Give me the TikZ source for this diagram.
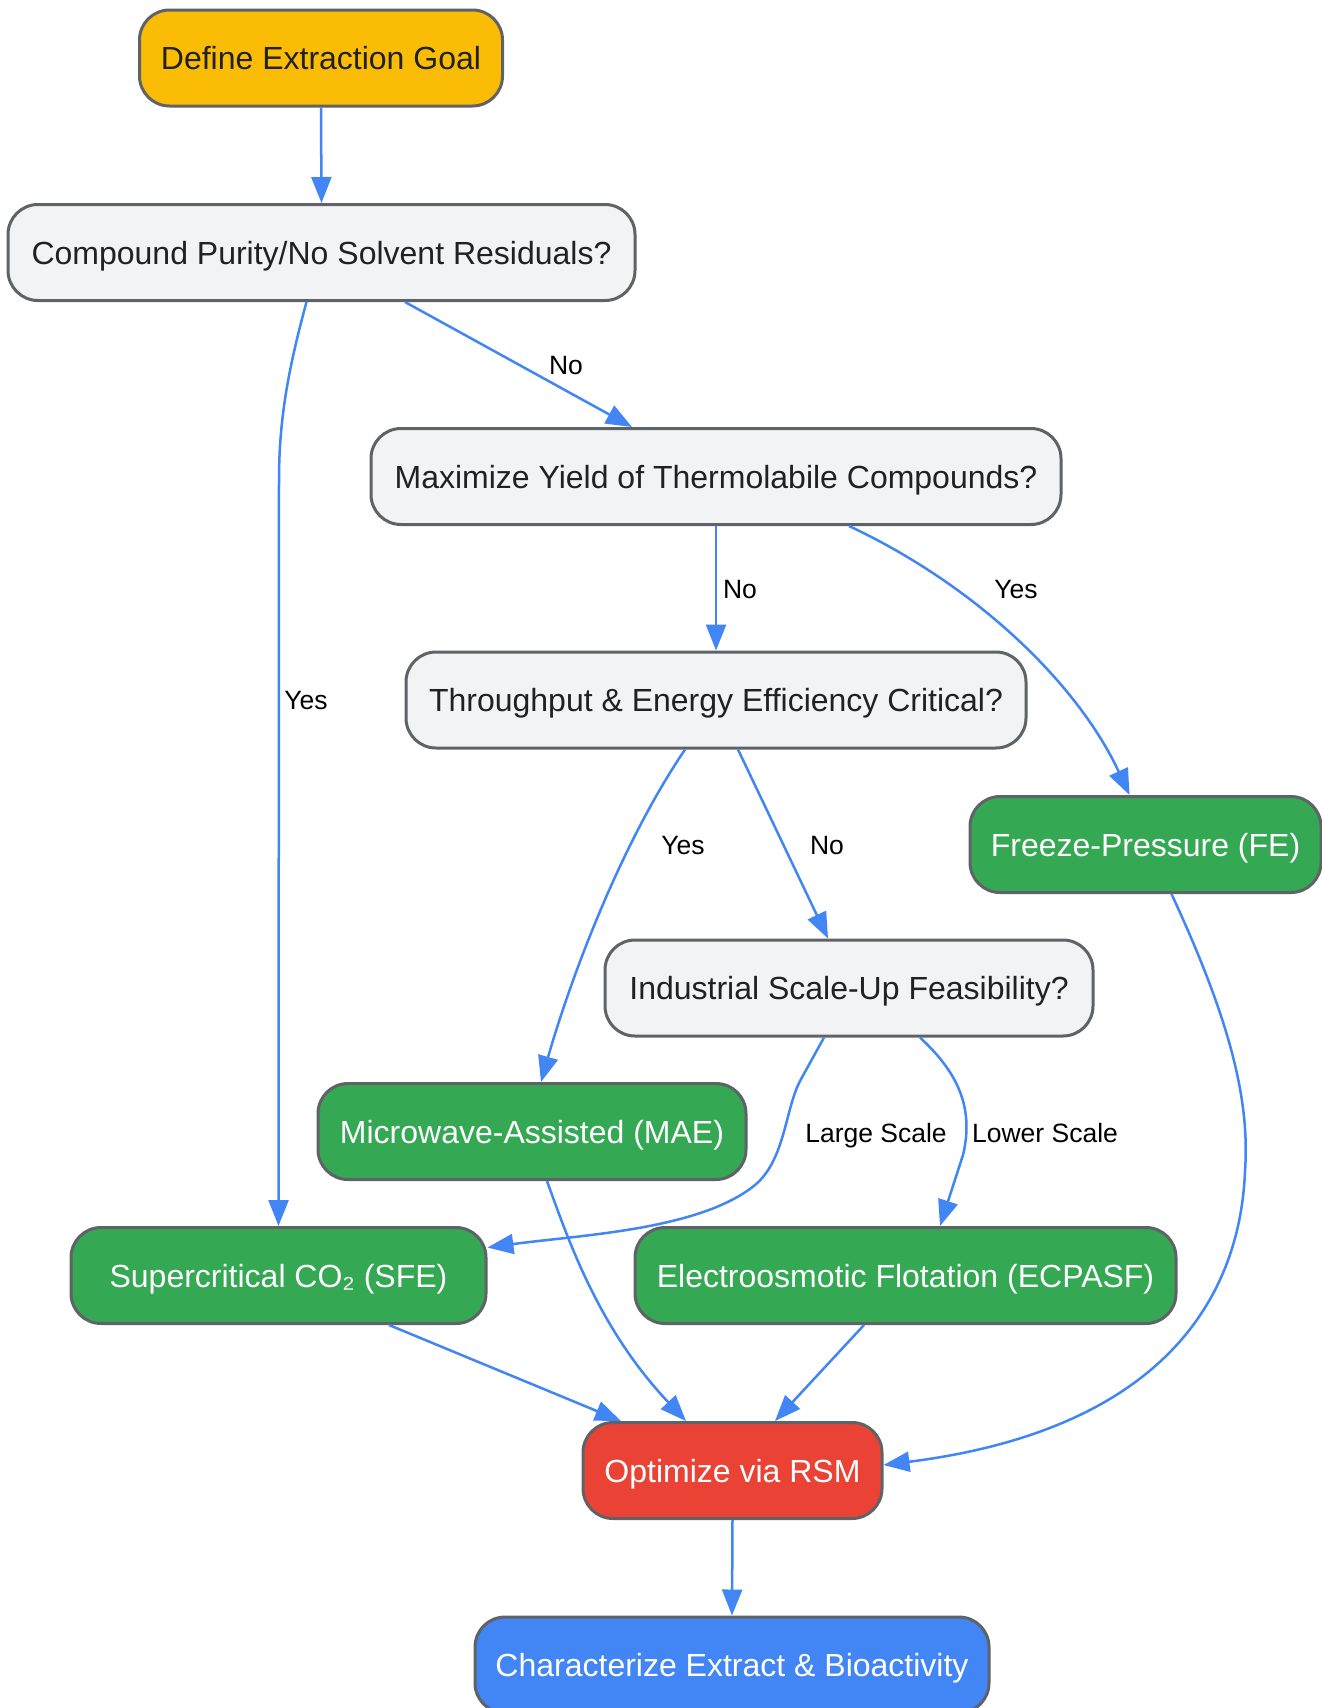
\documentclass[tikz,border=0pt]{standalone}
\usepackage{fontspec}
\setmainfont{Liberation Sans}
\usetikzlibrary{arrows.meta}
\definecolor{gyellow}{HTML}{FBBC05}
\definecolor{ggray}{HTML}{F1F3F4}
\definecolor{ggreen}{HTML}{34A853}
\definecolor{gred}{HTML}{EA4335}
\definecolor{gblue}{HTML}{4285F4}
\definecolor{bordc}{HTML}{5F6368}
\definecolor{darktext}{HTML}{202124}
\begin{document}
\begin{tikzpicture}[x=1pt,y=-1pt,
  box/.style={draw=bordc, line width=3pt, rounded corners=30pt, align=center,
    font=\fontsize{32}{38}\selectfont, inner sep=0pt, minimum height=96pt,
    text height=23pt, text depth=0pt},
  question/.style={box, fill=ggray, text=darktext},
  method/.style={box, fill=ggreen, text=white},
  conn/.style={draw=gblue, line width=2.5pt, -{Triangle[length=26pt,width=20pt]}},
  lbl/.style={font=\fontsize{26.5}{32}\selectfont, text=black, inner sep=0pt,
    text height=19pt, text depth=0pt}]
\useasboundingbox (0,0) rectangle (1322,1708);
\fill[white] (0,0) rectangle (1322,1708);

% nodes
\node[box, fill=gyellow, text=darktext, minimum width=363pt] (define) at (321,58) {Define Extraction Goal};
\node[question, minimum width=627pt] (compound) at (321.5,252.5) {Compound Purity/No Solvent Residuals?};
\node[question, minimum width=690pt] (maximize) at (716,476.5) {Maximize Yield of Thermolabile Compounds?};
\node[question, minimum width=620pt] (through) at (716,700) {Throughput \& Energy Efficiency Critical?};
\node[method, minimum width=351pt] (freeze) at (1145.5,844.5) {Freeze-Pressure (FE)};
\node[question, minimum width=488pt] (industrial) at (849,988) {Industrial Scale-Up Feasibility?};
\node[method, minimum width=428pt] (mae) at (532,1131.5) {Microwave-Assisted (MAE)};
\node[method, minimum width=415pt] (sfe) at (278.5,1275.5) {Supercritical CO₂ (SFE)};
\node[method, minimum width=541pt] (ecpasf) at (905.5,1275.5) {Electroosmotic Flotation (ECPASF)};
\node[box, fill=gred, text=white, minimum width=299pt] (rsm) at (732.5,1470.5) {Optimize via RSM};
\node[box, fill=gblue, text=white, minimum width=514pt] (charact) at (732,1665) {Characterize Extract \& Bioactivity};

% connectors
\draw[conn] (define.south) -- (compound.north);
\draw[conn] ([xshift=-15pt]compound.south) .. controls (288,370) and (279,420) .. (279,480) -- (sfe.north);
\draw[conn] ([xshift=83.5pt]compound.south) -- ([xshift=-84pt]maximize.north);
\draw[conn] (maximize.south) -- (through.north);
\draw[conn] ([xshift=133pt]maximize.south) .. controls (979,587) and (1079,686) .. ([xshift=-16pt]freeze.north);
\draw[conn] ([xshift=-31pt]through.south) .. controls (615,853) and (566,994) .. ([xshift=9pt]mae.north);
\draw[conn] ([xshift=22pt]through.south) -- ([xshift=-21pt]industrial.north);
\draw[conn] ([xshift=-25pt]industrial.south) -- (800,1081) .. controls (785,1110) and (785,1160) .. (755,1185) .. controls (700,1230) and (580,1235) .. ([yshift=28pt]sfe.east);
\draw[conn] ([xshift=71pt]industrial.south) .. controls (955,1070) and (975,1105) .. (963,1155) -- ([xshift=34.5pt]ecpasf.north);
\draw[conn] ([xshift=26pt]freeze.south) .. controls (1230,1020) and (1250,1100) .. (1245,1171) .. controls (1240,1300) and (1160,1430) .. ([yshift=5.5pt]rsm.east);
\draw[conn] ([xshift=15pt]mae.south) .. controls (570,1245) and (600,1330) .. ([xshift=-46.5pt]rsm.north);
\draw[conn] ([xshift=110.5pt]sfe.south) -- ([xshift=-111.5pt]rsm.north);
\draw[conn] ([xshift=-41.5pt]ecpasf.south) -- ([xshift=42.5pt]rsm.north);
\draw[conn] (rsm.south) -- (charact.north);

% labels
\node[lbl] (l1) at (566,365) {No};
\node[lbl] (l2) at (306,700) {Yes};
\node[lbl] (l3) at (740,589) {No};
\node[lbl] (l4) at (1016,589) {Yes};
\node[lbl] (l5) at (683,845) {Yes};
\node[lbl] (l6) at (827,845) {No};
\node[lbl] (l7) at (876,1133) {Large Scale};
\node[lbl] (l8) at (1045,1133) {Lower Scale};
\end{tikzpicture}
\end{document}
